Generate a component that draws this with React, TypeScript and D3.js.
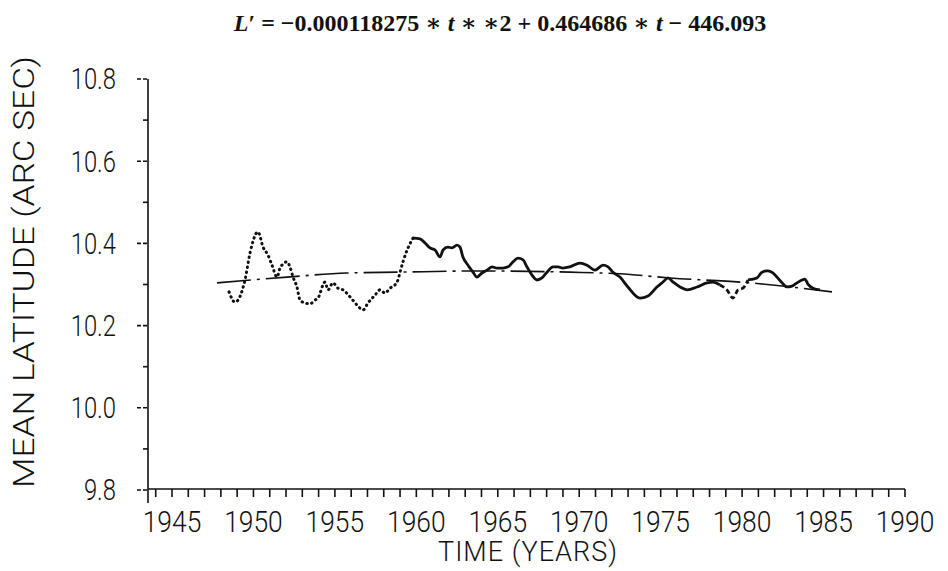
import React from "react";
import * as d3 from "d3";

const W = 948;
const H = 571;

// x tick labels (every 5 years) and y tick labels
const yearLabels = [1945, 1950, 1955, 1960, 1965, 1970, 1975, 1980, 1985, 1990];
const latLabels = [9.8, 10.0, 10.2, 10.4, 10.6, 10.8];

// early part of the record, plotted dotted
const dottedYears = [
  1948.5, 1948.87, 1949.48, 1949.79, 1950.28, 1950.59, 1950.89, 1951.14, 1951.45, 1951.63,
  1952.06, 1952.24, 1952.43, 1952.67, 1952.86, 1953.17, 1953.47, 1953.78, 1953.96, 1954.39,
  1954.58, 1954.88, 1955.19, 1955.5, 1955.93, 1956.36, 1956.73, 1957.03, 1957.46, 1957.77,
  1958.08, 1958.38, 1958.69, 1958.87, 1959.0, 1959.18, 1959.49, 1959.8,
];
const dottedLat = [
  10.282, 10.257, 10.311, 10.377, 10.428, 10.391, 10.372, 10.347, 10.318, 10.34,
  10.355, 10.343, 10.318, 10.294, 10.262, 10.255, 10.253, 10.262, 10.267, 10.306,
  10.287, 10.304, 10.291, 10.287, 10.27, 10.25, 10.238, 10.255, 10.274, 10.287,
  10.279, 10.291, 10.299, 10.311, 10.33, 10.355, 10.389, 10.413,
];

// later part, plotted solid
const solidYears = [
  1959.8, 1960.23, 1960.53, 1960.84, 1961.15, 1961.45, 1961.64, 1961.94, 1962.19, 1962.5,
  1962.68, 1962.86, 1963.17, 1963.48, 1963.72, 1964.03, 1964.34, 1964.65, 1964.95, 1965.32,
  1965.63, 1965.93, 1966.24, 1966.55, 1966.79, 1967.1, 1967.41, 1967.71, 1968.02, 1968.39,
  1968.7, 1969.0, 1969.43, 1970.05, 1970.48, 1970.97, 1971.46, 1971.77, 1972.07, 1972.5,
  1972.99, 1973.73, 1974.22, 1974.77, 1975.14, 1975.45, 1975.76, 1976.19, 1976.62, 1977.23,
  1977.84, 1978.21, 1978.64, 1979.07, 1979.44, 1979.75, 1980.05, 1980.36, 1980.91, 1981.22,
  1981.53, 1981.83, 1982.14, 1982.45, 1982.76, 1983.06, 1983.37, 1983.68, 1983.86, 1984.04,
  1984.35, 1984.78,
];
const solidLat = [
  10.413, 10.411, 10.401, 10.389, 10.384, 10.367, 10.384, 10.391, 10.389, 10.396,
  10.391, 10.367, 10.347, 10.33, 10.318, 10.328, 10.335, 10.343, 10.34, 10.34,
  10.343, 10.355, 10.364, 10.36, 10.343, 10.323, 10.311, 10.316, 10.33, 10.343,
  10.343, 10.34, 10.343, 10.352, 10.347, 10.335, 10.347, 10.343, 10.33, 10.318,
  10.294, 10.267, 10.272, 10.294, 10.306, 10.316, 10.306, 10.294, 10.287, 10.294,
  10.304, 10.306, 10.299, 10.287, 10.267, 10.287, 10.291, 10.311, 10.316, 10.33,
  10.333, 10.33, 10.318, 10.304, 10.294, 10.296, 10.304, 10.311, 10.313, 10.301,
  10.291, 10.287,
];

// quadratic fit as drawn
const fitYears = [1947.76, 1952.06, 1955.74, 1958.81, 1963.91, 1969.43, 1972.5, 1975.57, 1980.48, 1985.52];
const fitLat = [10.304, 10.318, 10.328, 10.33, 10.333, 10.33, 10.326, 10.316, 10.304, 10.282];

const x = d3.scaleLinear().domain([1945, 1990]).range([172, 905]);
const y = d3.scaleLinear().domain([9.8, 10.8]).range([490, 79]);

const line = d3
  .line<[number, number]>()
  .x((d) => x(d[0]))
  .y((d) => y(d[1]))
  .curve(d3.curveMonotoneX);

const zip = (a: number[], b: number[]) => a.map((v, i) => [v, b[i]] as [number, number]);

const plotFont = "Roboto, 'DejaVu Sans', sans-serif";

export default function App() {
  const dotted = zip(dottedYears, dottedLat);
  const solid = zip(solidYears, solidLat);
  const dashedPart = solid.filter((d) => d[0] >= 1978.6 && d[0] <= 1980.4);
  const solidA = solid.filter((d) => d[0] <= 1978.64);
  const solidB = solid.filter((d) => d[0] >= 1980.36);
  const fit = zip(fitYears, fitLat);

  const axisY = x.range()[0] - 24; // 148
  const axisX = y(9.8) - 1;
  const yearTicks = d3.range(1944, 1991);
  const minorLat = [9.9, 10.1, 10.3, 10.5, 10.7];

  return (
    <svg
      width={W}
      height={H}
      style={{ position: "absolute", left: 0, top: 0, background: "#fff" }}
    >
      {/* title */}
      <text
        x={500}
        y={31}
        textAnchor="middle"
        fontFamily="'Liberation Serif', 'DejaVu Serif', serif"
        fontSize={24}
        fontWeight="bold"
        fill="#111"
      >
        <tspan fontStyle="italic">L</tspan>′ = −0.000118275 ∗ <tspan fontStyle="italic">t</tspan> ∗ ∗2 + 0.464686 ∗{" "}
        <tspan fontStyle="italic">t</tspan> − 446.093
      </text>

      {/* y axis */}
      <line x1={axisY} x2={axisY} y1={y(10.8)} y2={503} stroke="#111" strokeWidth={1.6} />
      {latLabels.map((v) => (
        <g key={v}>
          <line x1={axisY - 11} x2={axisY} y1={y(v)} y2={y(v)} stroke="#111" strokeWidth={1.6} strokeDasharray="4,2" />
          <text
            x={116}
            y={y(v)}
            dy="0.36em"
            textAnchor="end"
            fontFamily={plotFont}
            fontWeight={300}
            fontSize={29}
            fill="#111"
            transform={`translate(116,0) scale(0.82,1) translate(-116,0)`}
          >
            {v.toFixed(1)}
          </text>
        </g>
      ))}
      {minorLat.map((v) => (
        <line key={v} x1={axisY - 5} x2={axisY} y1={y(v)} y2={y(v)} stroke="#111" strokeWidth={1.6} />
      ))}

      {/* x axis */}
      <line x1={axisY} x2={x(1990)} y1={axisX} y2={axisX} stroke="#111" strokeWidth={1.6} />
      {yearTicks.map((t) => (
        <line key={t} x1={x(t)} x2={x(t)} y1={axisX} y2={axisX + 8} stroke="#111" strokeWidth={1.6} />
      ))}
      {yearLabels.map((t) => (
        <text
          key={t}
          x={x(t)}
          y={532}
          textAnchor="middle"
          fontFamily={plotFont}
          fontWeight={300}
          fontSize={30}
          fill="#111"
          transform={`translate(${x(t)},0) scale(0.88,1) translate(${-x(t)},0)`}
        >
          {t}
        </text>
      ))}
      <text
        x={528}
        y={561}
        textAnchor="middle"
        fontFamily={plotFont}
        fontWeight={300}
        fontSize={27}
        letterSpacing={1}
        fill="#111"
      >
        TIME  (YEARS)
      </text>
      <text
        transform={`translate(34,272) rotate(-90)`}
        textAnchor="middle"
        fontFamily={plotFont}
        fontWeight={300}
        fontSize={29}
        textLength={432}
        lengthAdjust="spacingAndGlyphs"
        fill="#111"
      >
        MEAN LATITUDE  (ARC SEC)
      </text>

      {/* fitted quadratic */}
      <path
        d={line(fit) || ""}
        fill="none"
        stroke="#111"
        strokeWidth={1.6}
        strokeDasharray="34,6,3,6"
      />

      {/* observed mean latitude */}
      <path
        d={line(dotted) || ""}
        fill="none"
        stroke="#111"
        strokeWidth={3}
        strokeLinecap="round"
        strokeDasharray="0.5,4.5"
      />
      <path d={line(solidA) || ""} fill="none" stroke="#111" strokeWidth={2.8} strokeLinejoin="round" />
      <path
        d={line(dashedPart) || ""}
        fill="none"
        stroke="#111"
        strokeWidth={2.8}
        strokeDasharray="5,3"
      />
      <path d={line(solidB) || ""} fill="none" stroke="#111" strokeWidth={2.8} strokeLinejoin="round" />
    </svg>
  );
}
